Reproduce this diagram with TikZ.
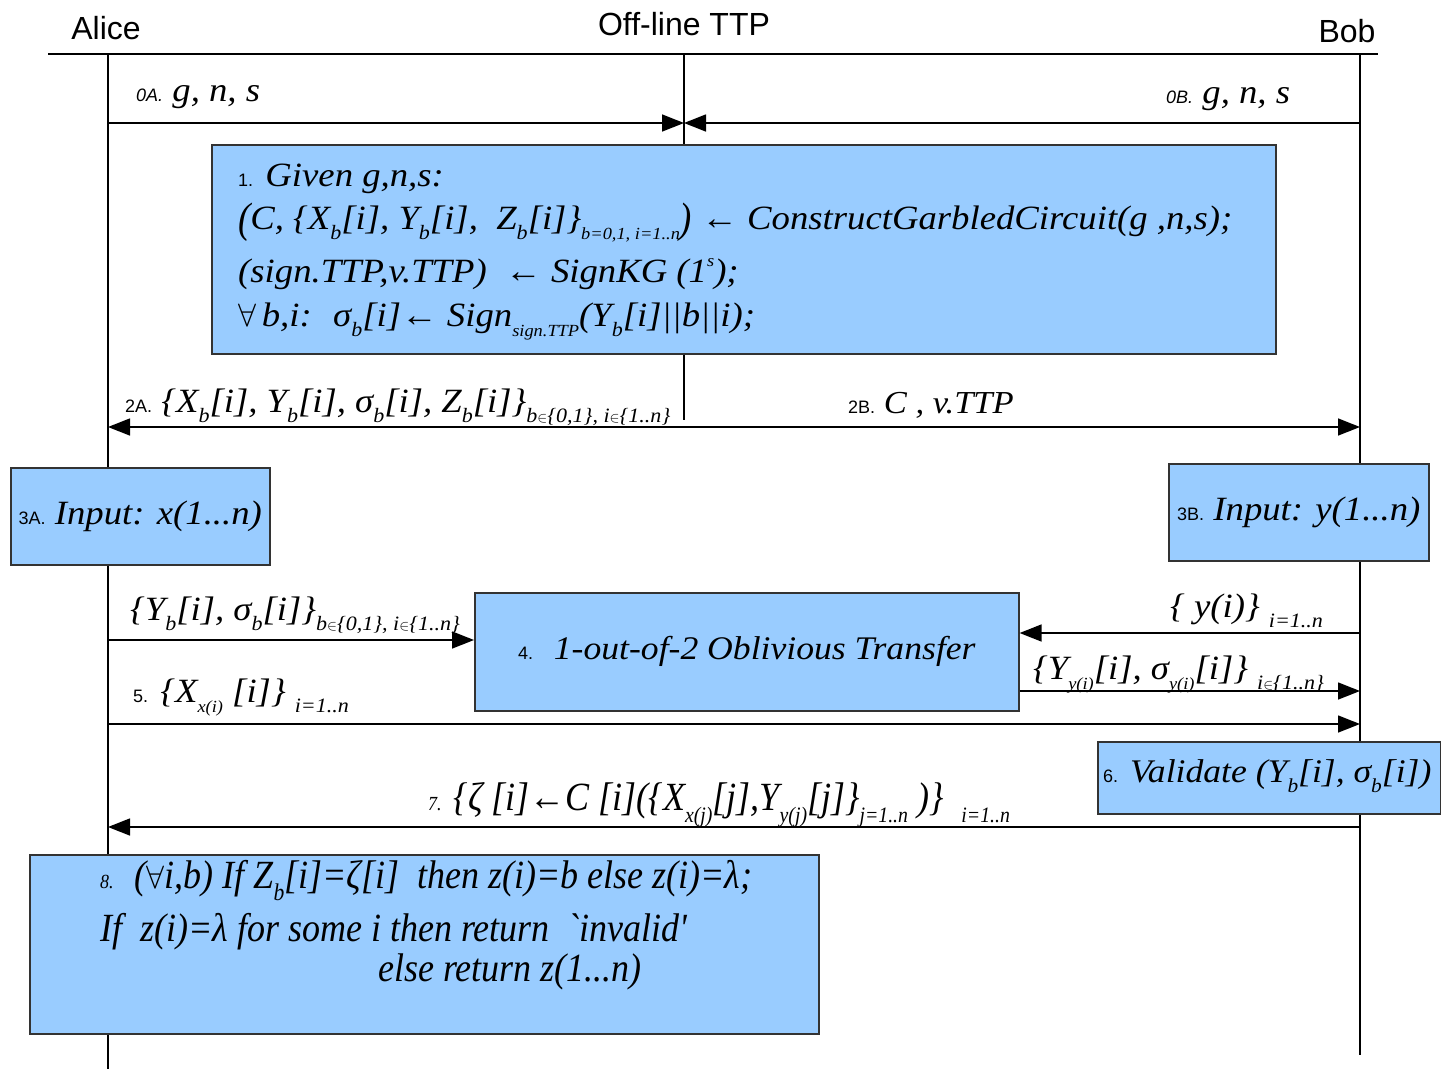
\documentclass[tikz,border=0pt]{standalone}
\usepackage{fontspec}
\setmainfont[FakeStretch=1.08]{Liberation Serif}
\newfontfamily\lab{Liberation Sans}
\newfontfamily\cond[FakeStretch=0.9]{Liberation Serif}
\usetikzlibrary{arrows.meta}
\definecolor{boxblue}{HTML}{99CCFF}
% lowered, shrunk subscript and raised superscript in text
\newcommand\lo[2][0.6]{\raisebox{-0.32em}{\scalebox{#1}{#2}}}
\newcommand\hi[2][0.5]{\raisebox{0.45em}{\scalebox{#1}{#2}}}
\newcommand\stp[1]{{\lab\upshape\fontsize{18}{20}\selectfont #1}}
\newcommand\stpi[1]{{\lab\itshape\fontsize{18}{20}\selectfont #1}}
\tikzset{
  x=1pt, y=-1pt,
  box/.style={draw=black!80, line width=1.6pt, fill=boxblue, inner sep=0pt, anchor=north west},
  msg/.style={line width=1.5pt, -{Triangle[length=22pt,width=17pt]}},
  life/.style={line width=1.3pt},
  hdr/.style={font=\lab\fontsize{32}{36}\selectfont, inner sep=0pt},
  txt/.style={font=\itshape\fontsize{34}{38}\selectfont, inner sep=0pt, anchor=base west},
  big/.style={font=\itshape\fontsize{34}{38}\selectfont, inner sep=0pt, anchor=base west},
  nar/.style={font=\cond\itshape\fontsize{40}{44}\selectfont, inner sep=0pt, anchor=base west},
}
\begin{document}
\begin{tikzpicture}
\useasboundingbox (0,0) rectangle (1441,1069);

% headers and lifelines
\node[hdr] (alice) at (106,28) {Alice};
\node[hdr] (ttp) at (684,24) {Off-line TTP};
\node[hdr] (bob) at (1347,31) {Bob};
\coordinate (hl) at (48,54);
\coordinate (hr) at (1378,54);
\draw[line width=1.3pt] (hl) -- (hr);
\coordinate (aTop) at (108,54);
\coordinate (aBot) at (108,1069);
\coordinate (bTop) at (1360,54);
\coordinate (bBot) at (1360,1055);
\coordinate (tTop) at (684,54);
\draw[life] (aTop) -- (aBot);
\draw[life] (bTop) -- (bBot);

% boxes
\node[box, minimum width=1064, minimum height=209] (b1) at (211,144) {};
\node[box, minimum width=259, minimum height=97] (b3a) at (10,467) {};
\node[box, minimum width=260, minimum height=97] (b3b) at (1168,463) {};
\node[box, minimum width=544, minimum height=118] (b4) at (474,592) {};
\node[box, minimum width=343, minimum height=72] (b6) at (1097,741) {};
\node[box, minimum width=789, minimum height=179] (b8) at (29,854) {};

\draw[life] (tTop) -- (b1.north -| tTop);
\coordinate (tLow) at (684,420);
\draw[life] (b1.south -| tTop) -- (tLow);

% step 0
\coordinate (m0a) at (108,123);
\coordinate (m0t) at (684,123);
\coordinate (m0b) at (1360,123);
\draw[msg] (m0a) -- (m0t);
\draw[msg] (m0b) -- (m0t);
\node[txt, font=\itshape\fontsize{34}{38}\selectfont] (l0a) at (136,101) {\stpi{0A.} g, n, s};
\node[txt, font=\itshape\fontsize{34}{38}\selectfont] (l0b) at (1166,103) {\stpi{0B.} g, n, s};

% step 1
\node[big] (t1a) at (238,186) {\stp{1.} Given g,n,s:};
\node[big] (t1b) at (238,229) {\raisebox{-0.1em}{\scalebox{1}[1.25]{(}}C, \{X\lo{b}[i], Y\lo{b}[i], \ Z\lo{b}[i]\}\lo[0.5]{b=0,1, i=1..n}\raisebox{-0.1em}{\scalebox{1}[1.25]{)}} ← ConstructGarbledCircuit(g ,n,s);};
\node[big] (t1c) at (238,282) {(sign.TTP,v.TTP) \ ← SignKG (1\hi{s});};
\node[big] (t1d) at (238,326) {\scalebox{1.3}{$\forall$}\,b,i: \ σ\lo{b}[i]← Sign\lo[0.5]{sign.TTP}(Y\lo{b}[i]||b||i);};

% step 2
\coordinate (m2a) at (108,427);
\coordinate (m2b) at (1360,427);
\draw[line width=1.5pt, {Triangle[length=22pt,width=17pt]}-{Triangle[length=22pt,width=17pt]}] (m2a) -- (m2b);
\node[txt] (l2a) at (125,412) {\stp{2A.} \{X\lo{b}[i], Y\lo{b}[i], σ\lo{b}[i], Z\lo{b}[i]\}\lo{b$\in$\{0,1\}, i$\in$\{1..n\}}};
\node[txt, font=\itshape\fontsize{32}{38}\selectfont] (l2b) at (848,413) {\stp{2B.} C , v.TTP};

% step 3
\node[big, anchor=center, font=\itshape\fontsize{34}{38}\selectfont] (t3a) at (b3a.center) {\stp{3A.} Input: x(1...n)};
\node[big, anchor=center, font=\itshape\fontsize{34}{38}\selectfont] (t3b) at (b3b.center) {\stp{3B.} Input: y(1...n)};

% step 4
\node[big, anchor=center, font=\itshape\fontsize{33}{38}\selectfont] (t4) at (b4.center) {\stp{4.} \ 1-out-of-2 Oblivious Transfer};
\coordinate (m4a) at (108,640);
\draw[msg] (m4a) -- (b4.west |- m4a);
\node[txt] (l4a) at (130,620) {\{Y\lo{b}[i], σ\lo{b}[i]\}\lo{b$\in$\{0,1\}, i$\in$\{1..n\}}};
\coordinate (m4b) at (1360,633);
\draw[msg] (m4b) -- (b4.east |- m4b);
\node[txt] (l4b) at (1170,617) {\{ y(i)\} \lo{i=1..n}};
\coordinate (m4c) at (1360,691);
\draw[msg] (b4.east |- m4c) -- (m4c);
\node[txt] (l4c) at (1033,679) {\{Y\lo[0.5]{y(i)}[i], σ\lo[0.5]{y(i)}[i]\} \lo{i$\in$\{1..n\}}};

% step 5
\coordinate (m5a) at (108,724);
\coordinate (m5b) at (1360,724);
\draw[msg] (m5a) -- (m5b);
\node[txt] (l5) at (133,702) {\stp{5.} \{X\lo[0.5]{x(i)} [i]\} \lo{i=1..n}};

% step 6
\node[big, anchor=west, font=\itshape\fontsize{33}{38}\selectfont] (t6) at (1103,776) {\stp{6.} Validate (Y\lo{b}[i], σ\lo{b}[i])};

% step 7
\coordinate (m7b) at (1360,827);
\coordinate (m7a) at (108,827);
\draw[msg] (m7b) -- (m7a);
\node[nar] (l7) at (428,810) {{\fontsize{20}{22}\selectfont 7.} \{ζ [i]←C [i](\{X\lo[0.55]{x(j)}[j],Y\lo[0.55]{y(j)}[j]\}\lo[0.55]{j=1..n} )\} \ \lo[0.55]{i=1..n}};

% step 8
\node[nar] (t8a) at (100,888) {{\fontsize{20}{22}\selectfont 8.} \ (\scalebox{1.3}{$\forall$}i,b) If Z\lo{b}[i]=ζ[i] \ then z(i)=b else z(i)=λ;};
\node[nar] (t8b) at (100,941) {If \ z(i)=λ for some i then return \ `invalid'};
\node[nar] (t8c) at (378,981) {else return z(1...n)};
\end{tikzpicture}
\end{document}
